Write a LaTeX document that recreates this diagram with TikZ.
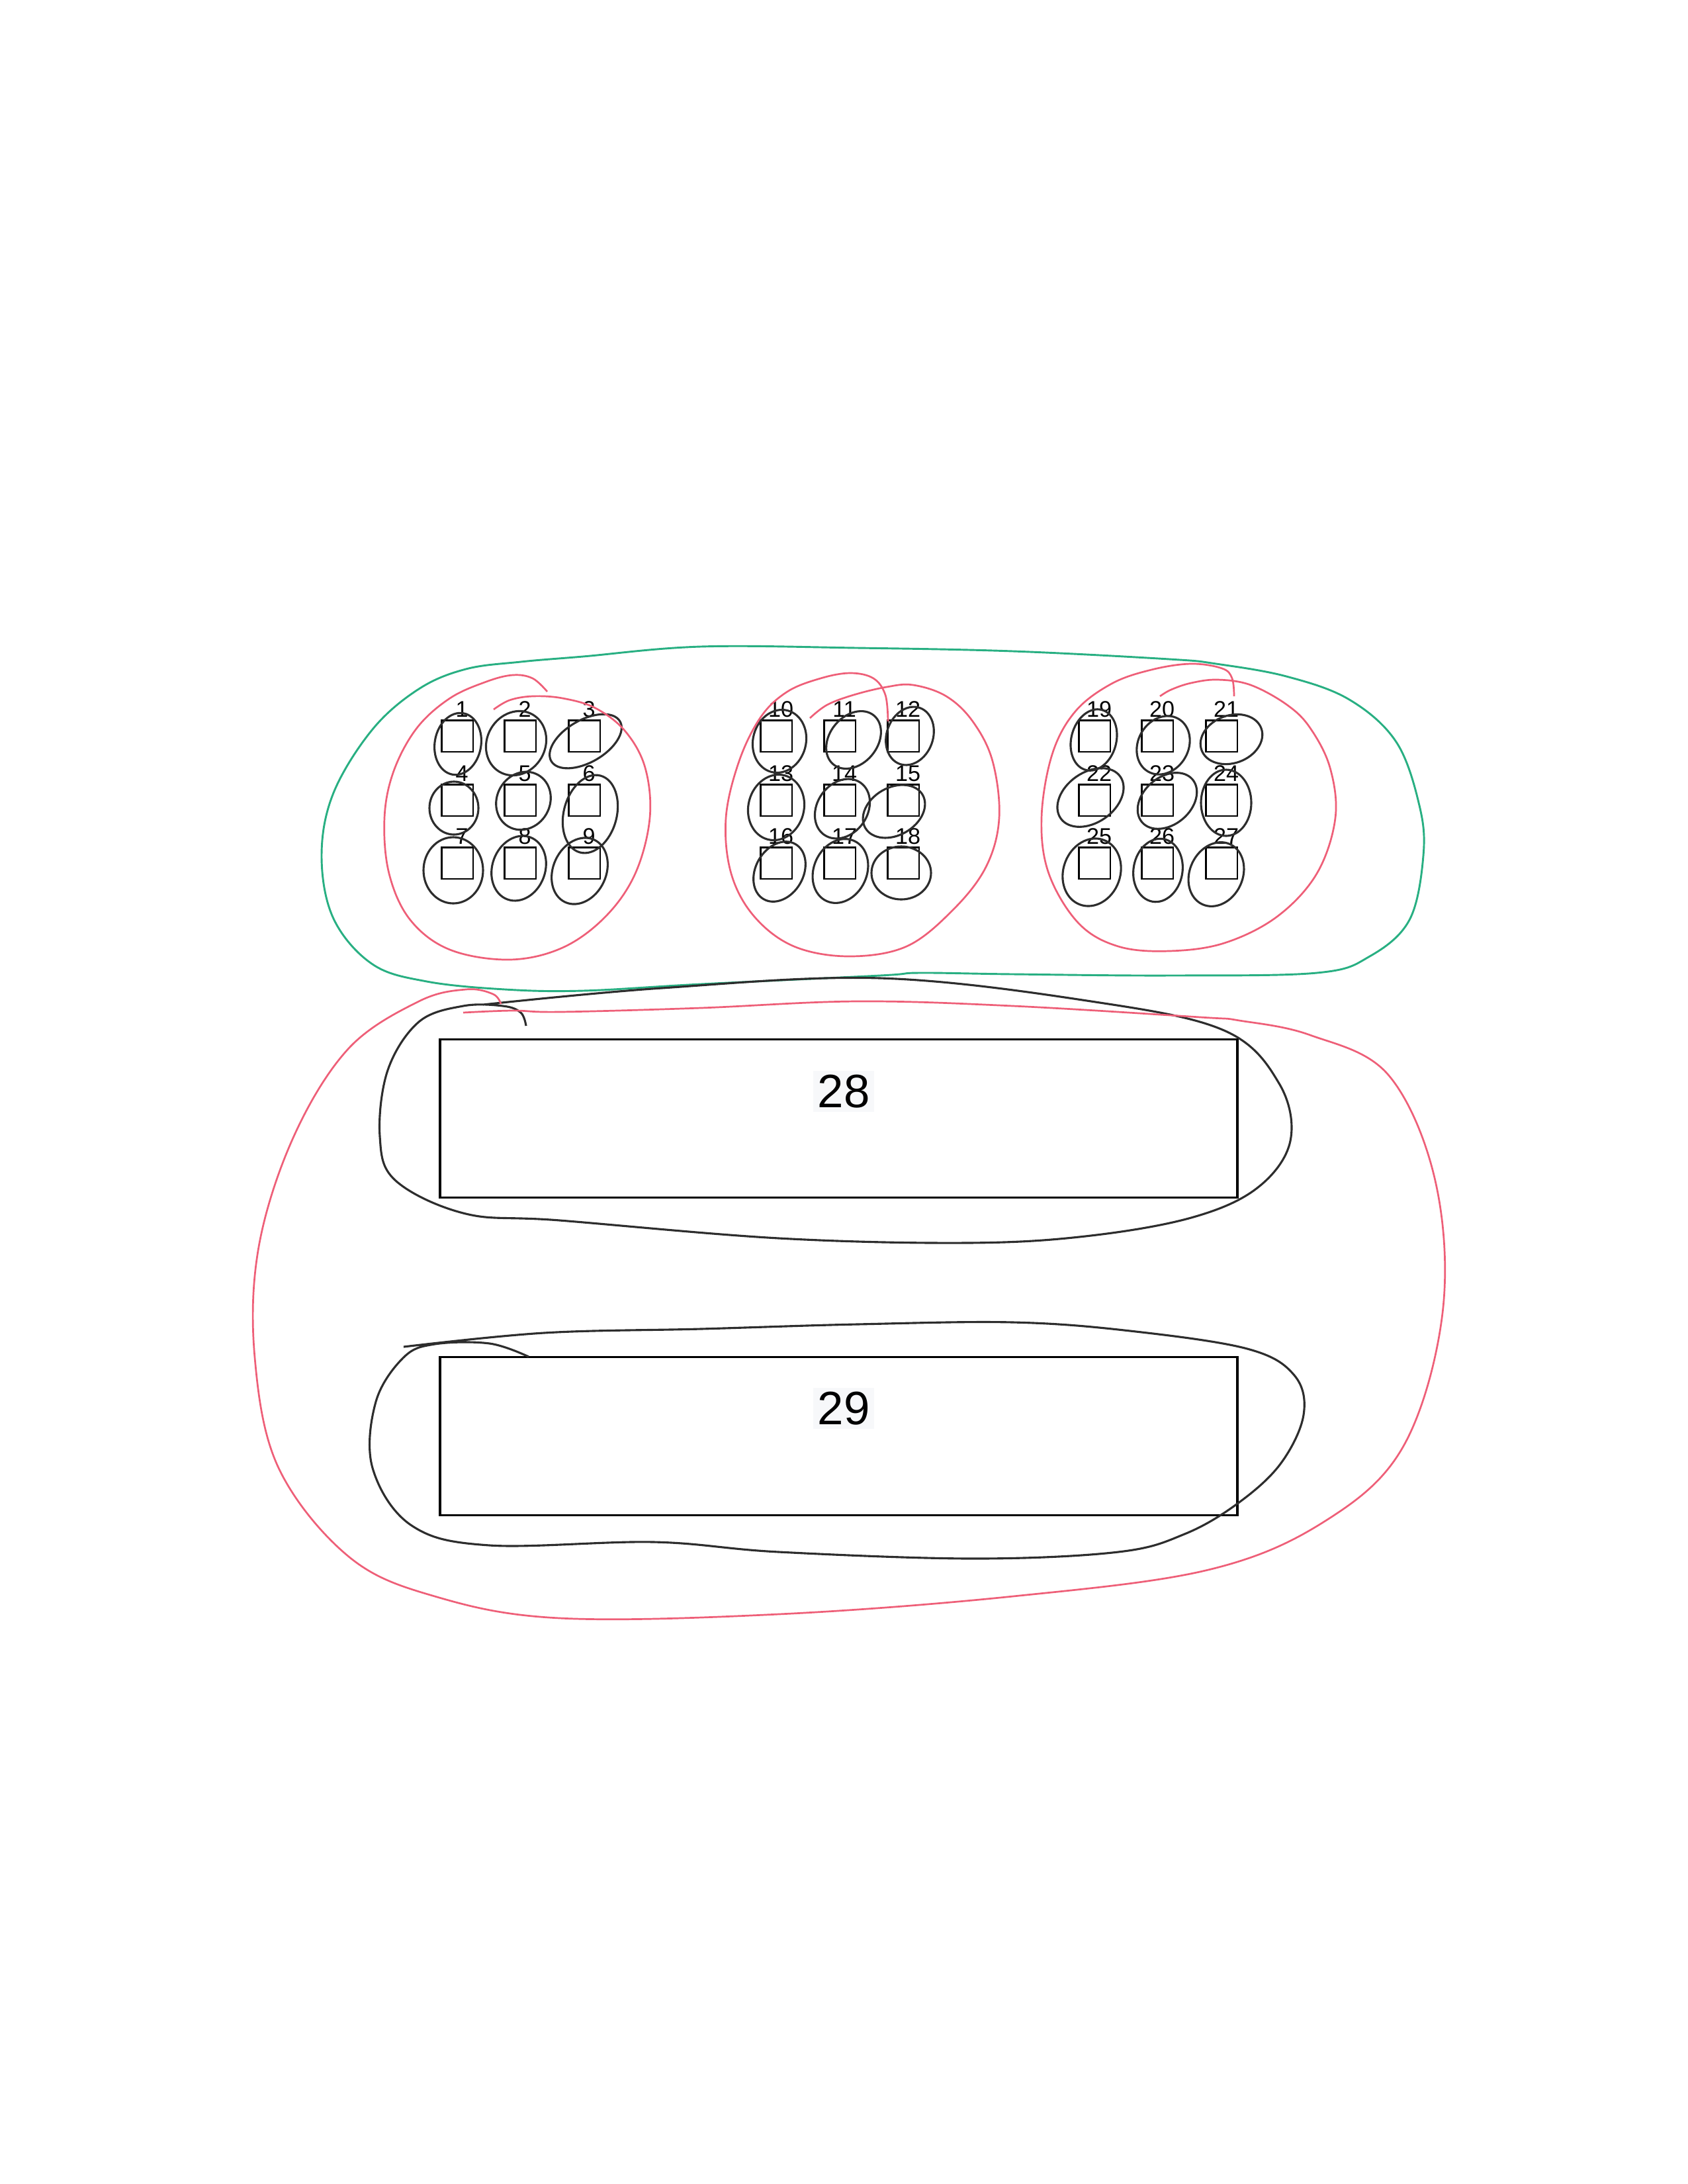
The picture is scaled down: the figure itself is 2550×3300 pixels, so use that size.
\documentclass[tikz,border=0pt]{standalone}
\usepackage{fontspec}
\setmainfont{Liberation Sans}
\definecolor{inkgreen}{RGB}{40,175,130}
\definecolor{inkpink}{RGB}{238,95,120}
\definecolor{inkblack}{RGB}{45,45,45}
\definecolor{labelbg}{RGB}{247,248,250}
\newcommand\handloop[5]{\draw[blk, rotate around={#5:(#1,#2)}] (#1,#2) ellipse [x radius=#3, y radius=#4];}
\begin{document}
\begin{tikzpicture}[x=0.24pt,y=-0.24pt,
  sq/.style={draw=black, line width=0.7pt, minimum size=11.5pt, inner sep=0pt, outer sep=0pt},
  num/.style={font=\fontsize{8.2}{8.2}\selectfont, inner sep=0.5pt, fill=white, anchor=south},
  bigbox/.style={draw=black, line width=0.75pt, minimum width=289.2pt, minimum height=57.4pt, inner sep=0pt},
  bignum/.style={font=\fontsize{17}{17}\selectfont, inner sep=1.5pt, fill=labelbg},
  blk/.style={draw=inkblack, line width=0.75pt},
  pnk/.style={draw=inkpink, line width=0.65pt},
  grn/.style={draw=inkgreen, line width=0.7pt}]
\useasboundingbox (0,0) rectangle (2550,3300);

% squares and labels
\foreach \i/\cx/\cy in {1/691/1112,2/786/1112,3/883/1112,4/691/1209,5/786/1209,6/883/1209,7/691/1304,8/786/1304,9/883/1304,
  10/1173/1112,11/1269/1112,12/1365/1112,13/1173/1209,14/1269/1209,15/1365/1209,16/1173/1304,17/1269/1304,18/1365/1304,
  19/1654/1112,20/1749/1112,21/1846/1112,22/1654/1209,23/1749/1209,24/1846/1209,25/1654/1304,26/1749/1304,27/1846/1304}{
  \node[sq] (s\i) at (\cx,\cy) {};
  \node[num] (l\i) at ([xshift=1.7pt,yshift=0.4pt]s\i.north) {\i};
}

% big rectangles
\node[bigbox] (r28) at (1267.5,1690) {};
\node[bignum] (t28) at (1275,1649) {28};
\node[bigbox] (r29) at (1267.5,2170) {};
\node[bignum] (t29) at (1275,2128) {29};

% black loops round the small squares
\handloop{692}{1124}{35}{47}{-10}
\handloop{780}{1123}{44}{50}{-30}
\handloop{885}{1120}{60}{32}{30}
\handloop{686}{1221}{37}{40}{0}
\handloop{791}{1210}{40}{45}{-30}
\handloop{892}{1230}{40}{60}{-15}
\handloop{685}{1315}{45}{50}{0}
\handloop{784}{1312}{40}{50}{-20}
\handloop{876}{1316}{40}{52}{-25}
\handloop{1178}{1120}{40}{48}{-15}
\handloop{1290}{1118}{36}{48}{-40}
\handloop{1375}{1112}{35}{45}{-20}
\handloop{1173}{1220}{42}{50}{-15}
\handloop{1273}{1222}{38}{48}{-35}
\handloop{1351}{1226}{50}{36}{30}
\handloop{1178}{1317}{36}{48}{-30}
\handloop{1270}{1316}{40}{50}{-25}
\handloop{1362}{1319}{45}{40}{0}
\handloop{1653}{1118}{34}{47}{-15}
\handloop{1758}{1126}{38}{46}{-30}
\handloop{1861}{1117}{48}{36}{20}
\handloop{1648}{1205}{55}{38}{35}
\handloop{1764}{1210}{50}{36}{40}
\handloop{1853}{1213}{38}{50}{0}
\handloop{1650}{1318}{43}{52}{-20}
\handloop{1750}{1315}{37}{48}{-10}
\handloop{1838}{1321}{40}{50}{-25}

% pink loops round the three clusters
\draw[pnk] plot[smooth, tension=0.6] coordinates {(827,1045) (805,1025) (775,1020) (735,1030) (680,1055) (630,1100) (595,1165) (581,1236) (588,1320) (620,1390) (680,1435) (770,1450) (850,1432) (915,1385) (960,1320) (982,1236) (975,1160) (945,1105) (900,1070) (850,1055) (805,1052) (770,1058) (746,1072)};
\draw[pnk] plot[smooth, tension=0.6] coordinates {(1342,1090) (1338,1050) (1320,1025) (1285,1017) (1240,1025) (1190,1045) (1150,1083) (1117,1150) (1097,1236) (1105,1320) (1140,1385) (1200,1430) (1283,1445) (1370,1430) (1440,1375) (1490,1310) (1510,1236) (1500,1150) (1470,1090) (1430,1052) (1380,1035) (1340,1038) (1290,1050) (1250,1065) (1224,1085)};
\draw[pnk] plot[smooth, tension=0.6] coordinates {(1865,1052) (1862,1025) (1847,1010) (1800,1003) (1740,1012) (1680,1033) (1625,1075) (1590,1140) (1574,1236) (1585,1320) (1630,1395) (1690,1430) (1767,1437) (1850,1425) (1930,1385) (1990,1320) (2018,1236) (2010,1160) (1980,1100) (1945,1065) (1890,1035) (1840,1027) (1800,1032) (1770,1042) (1753,1052)};

% green outline round the clusters
\draw[grn] plot[smooth cycle, tension=0.6] coordinates {(787,1000) (881,992) (1059,977) (1295,979) (1531,984) (1767,996) (1838,1003) (1944,1022) (2039,1057) (2110,1121) (2145,1217) (2151,1293) (2130,1390) (2070,1445) (1990,1470) (1767,1474) (1531,1472) (1389,1470) (1330,1474) (1059,1487) (881,1497) (763,1495) (645,1483) (563,1457) (504,1388) (486,1293) (504,1198) (563,1102) (633,1041) (704,1011)};

% black loops round the rectangles
\draw[blk] plot[smooth, tension=0.6] coordinates {(730,1518) (1000,1493) (1330,1478) (1649,1513) (1850,1557) (1933,1637) (1950,1724) (1900,1795) (1800,1840) (1640,1868) (1460,1878) (1177,1871) (846,1844) (704,1834) (598,1784) (574,1717) (586,1617) (633,1544) (700,1520) (760,1520) (787,1530) (795,1550)};
\draw[blk] plot[smooth, tension=0.6] coordinates {(610,2035) (822,2014) (1059,2008) (1295,2001) (1531,1998) (1708,2011) (1885,2038) (1956,2078) (1970,2138) (1935,2212) (1870,2272) (1790,2318) (1690,2345) (1472,2355) (1177,2345) (988,2330) (740,2335) (622,2305) (563,2218) (568,2118) (610,2051) (657,2031) (740,2030) (799,2050)};

% big pink loop round both rectangles
\draw[pnk] plot[smooth, tension=0.6] coordinates {(757,1517) (745,1502) (704,1495) (633,1513) (527,1584) (444,1717) (391,1884) (385,2051) (421,2218) (527,2352) (657,2412) (846,2445) (1177,2439) (1531,2412) (1826,2372) (2003,2298) (2121,2185) (2180,1984) (2169,1784) (2098,1624) (1980,1564) (1873,1542) (1814,1537) (1531,1520) (1295,1513) (1059,1523) (846,1529) (775,1527) (700,1530)};
\end{tikzpicture}
\end{document}
